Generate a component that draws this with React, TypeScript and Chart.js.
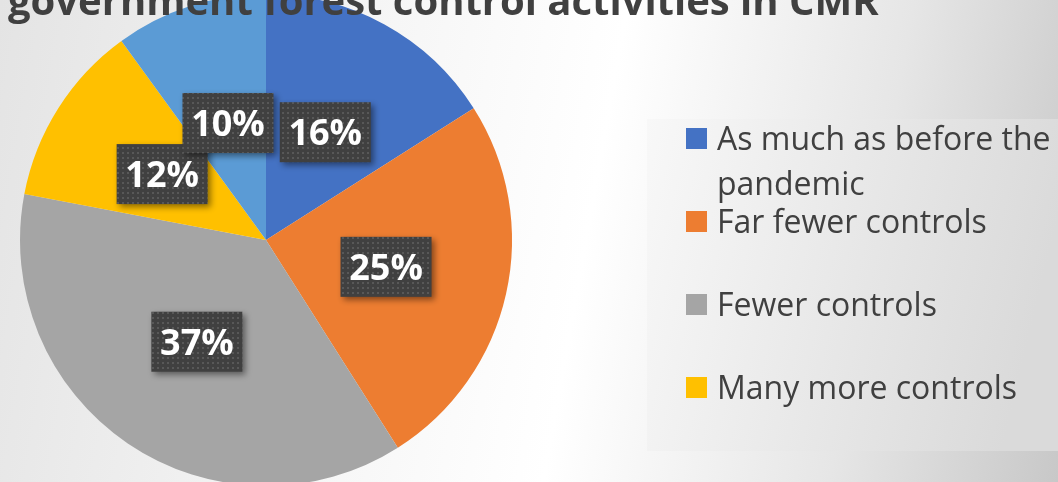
import React, { useEffect, useRef } from "react";
import { Chart, registerables } from "chart.js";

Chart.register(...registerables);

// ---- data ----
const categories = [
  "As much as before the pandemic",
  "Far fewer controls",
  "Fewer controls",
  "Many more controls",
  "Other",
];
const values = [16, 25, 37, 12, 10];
const colors = ["#4472C4", "#ED7D31", "#A5A5A5", "#FFC000", "#5B9BD5"];
const legendLabels = [
  ["As much as before the", "pandemic"],
  ["Far fewer controls"],
  ["Fewer controls"],
  ["Many more controls"],
];
const titleText = "government forest control activities in CMR";

const W = 1058;
const H = 482;
const OFF = 20; // canvas is shifted up by this many px
const FONT = "'Open Sans', 'Noto Sans', sans-serif";

function makePattern(ctx: CanvasRenderingContext2D) {
  const pc = document.createElement("canvas");
  pc.width = 5;
  pc.height = 5;
  const p = pc.getContext("2d")!;
  p.fillStyle = "#404040";
  p.fillRect(0, 0, 5, 5);
  p.fillStyle = "#585858";
  p.fillRect(2, 2, 2, 2);
  return ctx.createPattern(pc, "repeat");
}

const overlayPlugin = {
  id: "overlay",
  beforeDraw(chart: any) {
    const ctx: CanvasRenderingContext2D = chart.ctx;
    ctx.save();
    // legend box
    const bx = 647, by = 119 + OFF, bw = W - 647, bh = 332;
    const g = ctx.createLinearGradient(bx, by, bx + bw, by + bh * 0.3);
    g.addColorStop(0, "#f8f8f8");
    g.addColorStop(1, "#dadada");
    ctx.fillStyle = g;
    ctx.fillRect(bx, by, bw, bh);
    // legend items
    ctx.font = `32px ${FONT}`;
    ctx.textBaseline = "alphabetic";
    legendLabels.forEach((lines, i) => {
      const sy = 128 + i * 83 + OFF;
      ctx.fillStyle = colors[i];
      ctx.fillRect(686, sy, 21, 21);
      ctx.fillStyle = "#404040";
      lines.forEach((t, j) => {
        ctx.fillText(t, 717, sy + 22 + j * 45);
      });
    });
    ctx.restore();
  },
  afterDatasetsDraw(chart: any) {
    const ctx: CanvasRenderingContext2D = chart.ctx;
    const meta = chart.getDatasetMeta(0);
    const data: number[] = chart.data.datasets[0].data;
    const total = data.reduce((a, b) => a + b, 0);
    const pattern = makePattern(ctx);
    meta.data.forEach((arc: any, i: number) => {
      const pos = arc.tooltipPosition(false);
      const text = Math.round((data[i] / total) * 100) + "%";
      const bw = 91, bh = 60;
      ctx.save();
      ctx.shadowColor = "rgba(0,0,0,0.45)";
      ctx.shadowBlur = 6;
      ctx.shadowOffsetX = 3;
      ctx.shadowOffsetY = 3;
      ctx.fillStyle = pattern || "#404040";
      ctx.fillRect(pos.x - bw / 2, pos.y - bh / 2, bw, bh);
      ctx.restore();
      ctx.save();
      ctx.font = `bold 36px ${FONT}`;
      ctx.fillStyle = "#ffffff";
      ctx.textAlign = "center";
      ctx.textBaseline = "alphabetic";
      const m = ctx.measureText(text);
      ctx.fillText(text, pos.x, pos.y + m.actualBoundingBoxAscent / 2);
      ctx.restore();
    });
  },
  afterDraw(chart: any) {
    const ctx: CanvasRenderingContext2D = chart.ctx;
    ctx.save();
    ctx.font = `bold 40px ${FONT}`;
    ctx.fillStyle = "#404040";
    ctx.textBaseline = "alphabetic";
    ctx.fillText(titleText, 8, 15 + OFF);
    ctx.restore();
  },
};

export default function App() {
  const ref = useRef<HTMLCanvasElement>(null);
  useEffect(() => {
    document.body.style.margin = "0";
    const canvas = ref.current!;
    const chart = new Chart(canvas, {
      type: "pie",
      data: {
        labels: categories,
        datasets: [
          {
            data: values,
            backgroundColor: colors,
            borderWidth: 0,
          },
        ],
      },
      options: {
        responsive: false,
        animation: false,
        layout: { padding: { left: 20, right: W - 512, top: 14, bottom: 16 } },
        plugins: {
          legend: { display: false },
          tooltip: { enabled: false },
          title: { display: false },
        },
      },
      plugins: [overlayPlugin],
    });
    return () => chart.destroy();
  }, []);
  return (
    <div
      style={{
        position: "fixed",
        left: 0,
        top: 0,
        width: W,
        height: H,
        overflow: "hidden",
        background:
          "linear-gradient(100deg, #e4e4e4 0%, #f6f6f6 35%, #ffffff 55%, #e6e6e6 80%, #c8c8c8 100%)",
      }}
    >
      <canvas
        ref={ref}
        width={W}
        height={H + 2 * OFF}
        style={{ position: "absolute", left: 0, top: -OFF, width: W, height: H + 2 * OFF }}
      />
    </div>
  );
}
